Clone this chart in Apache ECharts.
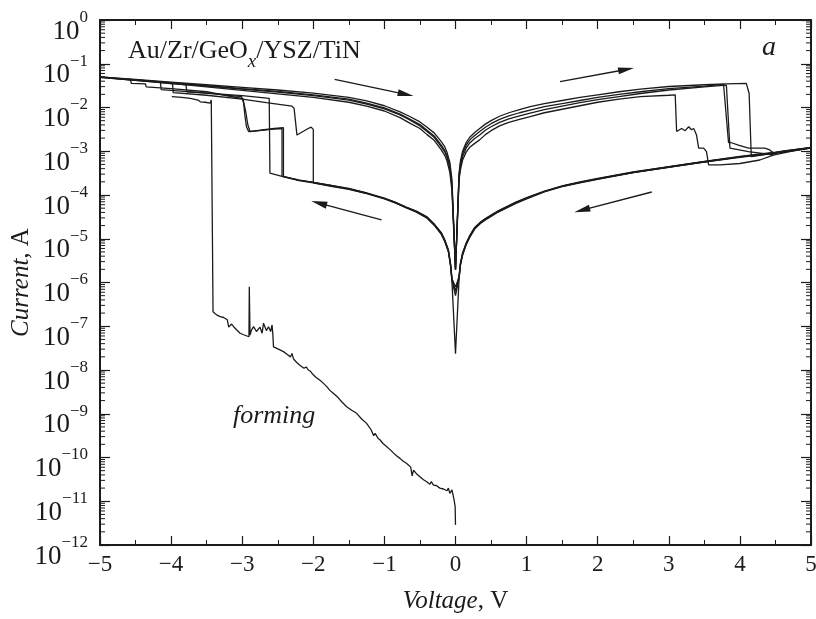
<!DOCTYPE html>
<html>
<head>
<meta charset="utf-8">
<script src="https://cdn.jsdelivr.net/npm/echarts@6/dist/echarts.min.js"></script>
<style>
  html, body { margin: 0; padding: 0; background: #fff; }
  #chart { width: 816px; height: 619px; }
</style>
</head>
<body>
<div id="chart"></div>
<script>
// values are [voltage V, log10(current A)]

// forming sweep 0 -> -4 V
const forming = [[0,-11.54],[-0.005,-11.12],[-0.02,-10.97],[-0.05,-10.74],[-0.08,-10.82],[-0.1,-10.70],[-0.12,-10.76],
  [-0.17,-10.72],[-0.22,-10.70],[-0.27,-10.64],[-0.31,-10.63],[-0.34,-10.55],[-0.36,-10.61],[-0.41,-10.55],
  [-0.45,-10.51],[-0.5,-10.44],[-0.55,-10.37],[-0.59,-10.29],[-0.61,-10.42],[-0.63,-10.22],[-0.69,-10.13],
  [-0.74,-10.08],[-0.78,-10.02],[-0.83,-9.96],[-0.87,-9.90],[-0.92,-9.82],[-0.97,-9.75],[-1.02,-9.68],
  [-1.06,-9.60],[-1.09,-9.56],[-1.13,-9.45],[-1.15,-9.50],[-1.19,-9.36],[-1.25,-9.22],[-1.32,-9.12],
  [-1.39,-8.99],[-1.46,-8.92],[-1.53,-8.84],[-1.58,-8.76],[-1.62,-8.69],[-1.67,-8.60],[-1.72,-8.53],
  [-1.77,-8.46],[-1.81,-8.38],[-1.86,-8.30],[-1.91,-8.23],[-1.96,-8.17],[-2.0,-8.11],[-2.04,-8.03],
  [-2.07,-8.00],[-2.1,-7.93],[-2.13,-7.96],[-2.19,-7.89],[-2.25,-7.80],[-2.28,-7.74],[-2.3,-7.62],
  [-2.32,-7.70],[-2.37,-7.64],[-2.42,-7.58],[-2.47,-7.54],[-2.52,-7.50],[-2.56,-7.47],[-2.57,-7.16],
  [-2.58,-6.97],[-2.6,-7.12],[-2.63,-7.01],[-2.66,-7.10],[-2.7,-6.93],[-2.72,-7.16],[-2.75,-7.02],
  [-2.77,-7.05],[-2.8,-7.12],[-2.84,-7.01],[-2.87,-7.09],[-2.89,-7.20],[-2.9,-6.10],[-2.905,-7.24],
  [-2.97,-7.20],[-3.03,-7.16],[-3.08,-7.08],[-3.12,-7.01],[-3.15,-6.95],[-3.17,-6.93],[-3.19,-7.02],
  [-3.21,-6.85],[-3.22,-6.82],[-3.26,-6.80],[-3.31,-6.78],[-3.36,-6.74],[-3.41,-6.67],[-3.43,-6.63],
  [-3.435,-1.83],[-3.45,-1.90],[-3.52,-1.88],[-3.59,-1.87],[-3.62,-1.83],[-3.73,-1.79],[-3.85,-1.77],[-3.99,-1.75]];

// low-resistance branch, 0 -> +V (before RESET)
const lrsPosA = [[0,-5.7],[0.05,-3.65],[0.07,-3.42],[0.1,-3.20],[0.15,-3.02],[0.2,-2.91],[0.27,-2.82],[0.34,-2.74],[0.42,-2.62],[0.5,-2.53],[0.62,-2.42],[0.75,-2.34],[0.9,-2.27],[1.05,-2.21],[1.25,-2.12],[1.5,-2.04],[1.75,-1.96],[2,-1.88],[2.3,-1.81],[2.6,-1.75],[3,-1.72],[3.09,-1.71]];
const lrsPosB = [[0,-5.7],[0.05,-3.55],[0.07,-3.28],[0.1,-3.05],[0.15,-2.86],[0.2,-2.74],[0.27,-2.64],[0.34,-2.55],[0.42,-2.45],[0.5,-2.37],[0.62,-2.27],[0.75,-2.19],[0.9,-2.12],[1.05,-2.06],[1.25,-1.98],[1.5,-1.91],[1.75,-1.84],[2,-1.77],[2.3,-1.70],[2.6,-1.64],[3,-1.57],[3.5,-1.51],[3.77,-1.47]];
const lrsPosC = [[0,-5.7],[0.05,-3.60],[0.07,-3.35],[0.1,-3.12],[0.15,-2.93],[0.2,-2.81],[0.27,-2.71],[0.34,-2.63],[0.42,-2.52],[0.5,-2.44],[0.62,-2.34],[0.75,-2.26],[0.9,-2.19],[1.05,-2.13],[1.25,-2.05],[1.5,-1.97],[1.75,-1.89],[2,-1.82],[2.3,-1.75],[2.6,-1.68],[3,-1.60],[3.5,-1.53],[3.81,-1.49]];
const lrsPosD = [[0,-5.7],[0.05,-3.50],[0.07,-3.22],[0.1,-3.00],[0.15,-2.80],[0.2,-2.68],[0.27,-2.57],[0.34,-2.48],[0.42,-2.38],[0.5,-2.30],[0.62,-2.20],[0.75,-2.12],[0.9,-2.05],[1.05,-1.98],[1.25,-1.91],[1.5,-1.84],[1.75,-1.77],[2,-1.71],[2.3,-1.64],[2.6,-1.58],[3,-1.52],[3.5,-1.48],[3.8,-1.46],[4.09,-1.45]];

// RESET drops
const resetA = [[3.11,-2.55],[3.18,-2.48],[3.23,-2.53],[3.28,-2.44],[3.32,-2.51],[3.35,-2.48],[3.39,-2.63],[3.42,-2.93],[3.49,-2.93],[3.53,-3.01],[3.56,-3.31],[3.72,-3.31],[4.0,-3.28],[4.28,-3.20],[4.47,-3.09],[4.75,-2.99]];
const resetB = [[3.79,-1.50],[3.84,-2.80],[3.87,-2.80],[3.98,-2.86],[4.12,-2.93],[4.35,-2.93],[4.42,-2.97],[4.47,-3.04],[4.75,-2.98]];
const resetC = [[3.86,-2.93],[4.12,-3.01],[4.45,-3.08],[4.6,-3.0],[4.8,-2.96]];
const resetD = [[4.13,-1.68],[4.16,-3.12],[4.47,-3.05],[4.75,-2.99]];

// high-resistance branch, +5 -> 0
const hrsBackA = [[5,-2.92],[4.5,-3.03],[4,-3.13],[3.5,-3.24],[3,-3.36],[2.5,-3.48],[2,-3.63],[1.75,-3.71],[1.5,-3.80],[1.25,-3.92],[1,-4.08],[0.85,-4.18],[0.7,-4.30],[0.6,-4.38],[0.5,-4.48],[0.42,-4.56],[0.35,-4.64],[0.27,-4.76],[0.2,-4.95],[0.15,-5.12],[0.1,-5.35],[0.07,-5.58],[0.05,-5.90],[0,-6.3]];
const hrsBackB = [[5,-2.91],[4.5,-3.02],[4,-3.12],[3.5,-3.23],[3,-3.35],[2.5,-3.47],[2,-3.62],[1.75,-3.70],[1.5,-3.79],[1.25,-3.91],[1,-4.06],[0.85,-4.16],[0.7,-4.28],[0.6,-4.36],[0.5,-4.46],[0.42,-4.54],[0.35,-4.62],[0.27,-4.74],[0.2,-4.93],[0.15,-5.10],[0.1,-5.32],[0.07,-5.55],[0.05,-5.85],[0,-6.2]];
const hrsBackC = [[5,-2.92],[4.5,-3.04],[4,-3.14],[3.5,-3.25],[3,-3.37],[2.5,-3.49],[2,-3.64],[1.75,-3.72],[1.5,-3.81],[1.25,-3.93],[1,-4.09],[0.85,-4.19],[0.7,-4.31],[0.6,-4.39],[0.5,-4.49],[0.42,-4.57],[0.35,-4.65],[0.27,-4.78],[0.2,-4.97],[0.15,-5.14],[0.1,-5.38],[0.07,-5.60],[0.05,-5.92],[0,-7.63]];
const hrsBackD = [[5,-2.93],[4.5,-3.03],[4,-3.13],[3.5,-3.24],[3,-3.36],[2.5,-3.49],[2,-3.63],[1.75,-3.71],[1.5,-3.80],[1.25,-3.92],[1,-4.07],[0.85,-4.17],[0.7,-4.29],[0.6,-4.37],[0.5,-4.47],[0.42,-4.55],[0.35,-4.63],[0.27,-4.75],[0.2,-4.94],[0.15,-5.11],[0.1,-5.34],[0.07,-5.57],[0.05,-5.88],[0,-6.1]];

// high-resistance branch, 0 -> SET voltage
const hrsNegA = [[-0.05,-5.95],[-0.07,-5.60],[-0.1,-5.28],[-0.15,-5.05],[-0.2,-4.88],[-0.3,-4.68],[-0.4,-4.52],[-0.55,-4.38],[-0.7,-4.28],[-0.85,-4.17],[-1,-4.08],[-1.25,-3.96],[-1.5,-3.86],[-1.75,-3.79],[-2,-3.72]];
const hrsNegB = [[-0.05,-5.90],[-0.07,-5.57],[-0.1,-5.25],[-0.15,-5.03],[-0.2,-4.86],[-0.3,-4.66],[-0.4,-4.50],[-0.55,-4.37],[-0.7,-4.27],[-0.85,-4.16],[-1,-4.07],[-1.25,-3.95],[-1.5,-3.85],[-1.75,-3.78],[-2,-3.71],[-2.2,-3.66],[-2.42,-3.58]];
const hrsNegC = [[-0.05,-5.98],[-0.07,-5.62],[-0.1,-5.30],[-0.15,-5.07],[-0.2,-4.90],[-0.3,-4.69],[-0.4,-4.53],[-0.55,-4.39],[-0.7,-4.29],[-0.85,-4.18],[-1,-4.09],[-1.25,-3.97],[-1.5,-3.87],[-1.75,-3.80],[-2,-3.72],[-2.2,-3.67],[-2.4,-3.59],[-2.61,-3.50]];
const hrsNegD = [[-0.05,-5.92],[-0.07,-5.58],[-0.1,-5.27],[-0.15,-5.04],[-0.2,-4.87],[-0.3,-4.67],[-0.4,-4.51],[-0.55,-4.38],[-0.7,-4.28],[-0.85,-4.17],[-1,-4.08],[-1.25,-3.96],[-1.5,-3.86],[-1.75,-3.78],[-2,-3.71],[-2.2,-3.66],[-2.44,-3.57]];

// SET jumps and the path out to -5 V
const setA = [[-2.0,-2.50],[-2.03,-2.45],[-2.06,-2.47],[-2.23,-2.63],[-2.27,-2.02],[-2.3,-1.97],[-2.66,-1.89],[-3.0,-1.81],[-3.5,-1.72],[-3.97,-1.66],[-3.98,-1.46],[-4.5,-1.37],[-5,-1.31]];
const setB = [[-2.42,-2.46],[-2.55,-2.48],[-2.75,-2.52],[-2.91,-2.55],[-2.94,-2.44],[-2.96,-2.21],[-2.98,-1.90],[-3.01,-1.75],[-3.5,-1.67],[-4.0,-1.61],[-4.14,-1.59],[-4.15,-1.42],[-4.5,-1.37],[-5,-1.30]];
const setC = [[-2.62,-1.79],[-3.0,-1.73],[-3.5,-1.67],[-3.78,-1.64],[-3.79,-1.48],[-4.5,-1.38],[-5,-1.31]];
const setD = [[-2.44,-2.48],[-2.6,-2.50],[-2.89,-2.55],[-2.92,-2.40],[-2.95,-2.10],[-2.99,-1.80],[-3.5,-1.64],[-4.0,-1.57],[-4.35,-1.53],[-4.36,-1.46],[-4.56,-1.45],[-4.57,-1.37],[-5,-1.30]];

// low-resistance branch, -5 -> 0
const lrsNegA = [[-5,-1.31],[-4.5,-1.38],[-4,-1.45],[-3.5,-1.53],[-3,-1.61],[-2.5,-1.69],[-2,-1.77],[-1.5,-1.88],[-1.25,-1.97],[-1,-2.08],[-0.78,-2.23],[-0.65,-2.35],[-0.5,-2.48],[-0.4,-2.62],[-0.3,-2.75],[-0.2,-2.97],[-0.15,-3.10],[-0.12,-3.22],[-0.08,-3.48],[-0.05,-3.90],[0,-5.7]];
const lrsNegB = [[-5,-1.30],[-4.5,-1.37],[-4,-1.43],[-3.5,-1.50],[-3,-1.57],[-2.5,-1.63],[-2,-1.71],[-1.5,-1.81],[-1.25,-1.90],[-1,-2.01],[-0.78,-2.15],[-0.65,-2.26],[-0.5,-2.39],[-0.4,-2.52],[-0.3,-2.65],[-0.2,-2.86],[-0.15,-2.98],[-0.12,-3.10],[-0.08,-3.33],[-0.05,-3.75],[0,-5.7]];
const lrsNegC = [[-5,-1.30],[-4.5,-1.37],[-4,-1.44],[-3.5,-1.51],[-3,-1.58],[-2.5,-1.65],[-2,-1.73],[-1.5,-1.83],[-1.25,-1.92],[-1,-2.03],[-0.78,-2.17],[-0.65,-2.28],[-0.5,-2.42],[-0.4,-2.55],[-0.3,-2.68],[-0.2,-2.90],[-0.15,-3.02],[-0.12,-3.14],[-0.08,-3.38],[-0.05,-3.80],[0,-5.7]];
const lrsNegD = [[-5,-1.30],[-4.5,-1.36],[-4,-1.42],[-3.5,-1.48],[-3,-1.54],[-2.5,-1.60],[-2,-1.67],[-1.5,-1.77],[-1.25,-1.85],[-1,-1.96],[-0.78,-2.10],[-0.65,-2.20],[-0.5,-2.33],[-0.4,-2.45],[-0.3,-2.58],[-0.2,-2.78],[-0.15,-2.90],[-0.12,-3.02],[-0.08,-3.25],[-0.05,-3.65],[0,-5.7]];

// sweep-direction arrows: [V start, I start, V end, I end]
const arrows = [
  [-1.70, 4.4e-2, -0.70, 2.0e-2],
  [1.47, 3.9e-2, 2.40, 7.4e-2],
  [2.76, 1.17e-4, 1.78, 4.5e-5],
  [-1.04, 2.7e-5, -1.92, 6.5e-5]
];

const yDecades = [-12, -11, -10, -9, -8, -7, -6, -5, -4, -3, -2, -1, 0];

const FONT = '"Liberation Serif", "Times New Roman", serif';
const INK = '#1b1b1b';

const toCurrent = pts => pts.map(p => [p[0], Math.pow(10, p[1])]);
const cycles = [
  [lrsPosA, resetA, hrsBackA, hrsNegA, setA, lrsNegA],
  [lrsPosB, resetB, hrsBackB, hrsNegB, setB, lrsNegB],
  [lrsPosC, resetC, hrsBackC, hrsNegC, setC, lrsNegC],
  [lrsPosD, resetD, hrsBackD, hrsNegD, setD, lrsNegD]
].map(parts => toCurrent([].concat(...parts)));

// log minor tick positions (2..9 x 10^n)
const minorTicks = [];
yDecades.slice(0, -1).forEach(n => {
  for (let k = 2; k <= 9; k++) minorTicks.push([-5, k * Math.pow(10, n)]);
});

const chart = echarts.init(document.getElementById('chart'));

const lineSeries = (data) => ({
  type: 'line',
  data: data,
  showSymbol: false,
  symbol: 'none',
  silent: true,
  lineStyle: { color: INK, width: 1.3 },
  z: 3
});

const supLabel = v => {
  const e = Math.round(Math.log10(v));
  return '{b|10}{s|' + (e < 0 ? '\u2212' : '') + Math.abs(e) + '}';
};
const vLabel = v => (v < 0 ? '\u2212' + Math.abs(v) : String(v));

const option = {
  animation: false,
  backgroundColor: '#fff',
  grid: { left: 100, right: 5, top: 20, bottom: 74, containLabel: false, outerBoundsMode: 'none' },
  xAxis: [
    {
      type: 'value', min: -5, max: 5, interval: 1,
      name: '{i|Voltage}{n|, V}', nameLocation: 'middle', nameGap: 44, nameMoveOverlap: false,
      nameTextStyle: {
        rich: {
          i: { fontFamily: FONT, fontSize: 25, fontStyle: 'italic', color: INK },
          n: { fontFamily: FONT, fontSize: 25, color: INK }
        }
      },
      axisLine: { onZero: false, lineStyle: { color: INK, width: 2 } },
      axisTick: { inside: true, length: 9, lineStyle: { color: INK, width: 1.2 } },
      minorTick: { show: true, splitNumber: 2, length: 5, lineStyle: { color: INK, width: 1 } },
      splitLine: { show: false },
      axisLabel: { fontFamily: FONT, fontSize: 23, color: INK, margin: 8, formatter: vLabel }
    },
    {
      type: 'value', min: -5, max: 5, interval: 1, position: 'top',
      axisLine: { onZero: false, lineStyle: { color: INK, width: 2 } },
      axisTick: { inside: true, length: 9, lineStyle: { color: INK, width: 1.2 } },
      minorTick: { show: true, splitNumber: 2, length: 5, lineStyle: { color: INK, width: 1 } },
      splitLine: { show: false },
      axisLabel: { show: false }
    }
  ],
  yAxis: [
    {
      type: 'log', logBase: 10, min: 1e-12, max: 1, interval: 1, splitNumber: 12,
      name: '{i|Current}{n|, A}', nameLocation: 'middle', nameGap: 66, nameMoveOverlap: false,
      nameTextStyle: {
        rich: {
          i: { fontFamily: FONT, fontSize: 25, fontStyle: 'italic', color: INK },
          n: { fontFamily: FONT, fontSize: 25, color: INK }
        }
      },
      axisLine: { onZero: false, lineStyle: { color: INK, width: 2 } },
      axisTick: { inside: true, length: 10, lineStyle: { color: INK, width: 1.2 } },
      splitLine: { show: false },
      axisLabel: {
        margin: 12,
        padding: [14, 0, 0, 0],
        formatter: supLabel,
        rich: {
          b: { fontFamily: FONT, fontSize: 27, color: INK, verticalAlign: 'bottom', lineHeight: 36 },
          s: { fontFamily: FONT, fontSize: 17, color: INK, verticalAlign: 'top', lineHeight: 36 }
        }
      }
    },
    {
      type: 'log', logBase: 10, min: 1e-12, max: 1, interval: 1, splitNumber: 12, position: 'right',
      axisLine: { onZero: false, lineStyle: { color: INK, width: 2 } },
      axisTick: { inside: true, length: 10, lineStyle: { color: INK, width: 1.2 } },
      splitLine: { show: false },
      axisLabel: { show: false }
    }
  ],
  graphic: [
    {
      type: 'text', left: 128, top: 38,
      style: {
        text: '{n|Au/Zr/GeO}{x|x}{n|/YSZ/TiN}',
        rich: {
          n: { fontFamily: FONT, fontSize: 26, fill: INK, verticalAlign: 'top', lineHeight: 28 },
          x: { fontFamily: FONT, fontSize: 19, fontStyle: 'italic', fill: INK, verticalAlign: 'top', lineHeight: 19, padding: [14, 0, 0, 0] }
        }
      }
    },
    { type: 'text', left: 762, top: 34, style: { text: 'a', font: 'italic 28px ' + FONT, fill: INK } },
    { type: 'text', left: 233, top: 403, style: { text: 'forming', font: 'italic 26px ' + FONT, fill: INK } }
  ],
  series: [
    Object.assign(lineSeries(toCurrent(forming)), {
      markLine: {
        silent: true,
        symbol: ['none', 'triangle'],
        symbolSize: [0, 0],
        label: { show: false },
        lineStyle: { color: INK, width: 1.4, type: 'solid' },
        data: arrows.map(a => [
          { coord: [a[0], a[1]], symbol: 'none' },
          { coord: [a[2], a[3]], symbol: 'triangle', symbolSize: [7, 16] }
        ])
      }
    }),
    ...cycles.map(lineSeries),
    {
      type: 'custom',
      data: minorTicks,
      encode: { x: 0, y: 1 },
      silent: true,
      z: 4,
      renderItem: (params, api) => {
        const l = api.coord([-5, api.value(1)]);
        const r = api.coord([5, api.value(1)]);
        return {
          type: 'group',
          children: [
            { type: 'line', shape: { x1: l[0], y1: l[1], x2: l[0] + 5, y2: l[1] }, style: { stroke: INK, lineWidth: 1 } },
            { type: 'line', shape: { x1: r[0] - 5, y1: r[1], x2: r[0], y2: r[1] }, style: { stroke: INK, lineWidth: 1 } }
          ]
        };
      }
    }
  ]
};

chart.setOption(option);
</script>
</body>
</html>
